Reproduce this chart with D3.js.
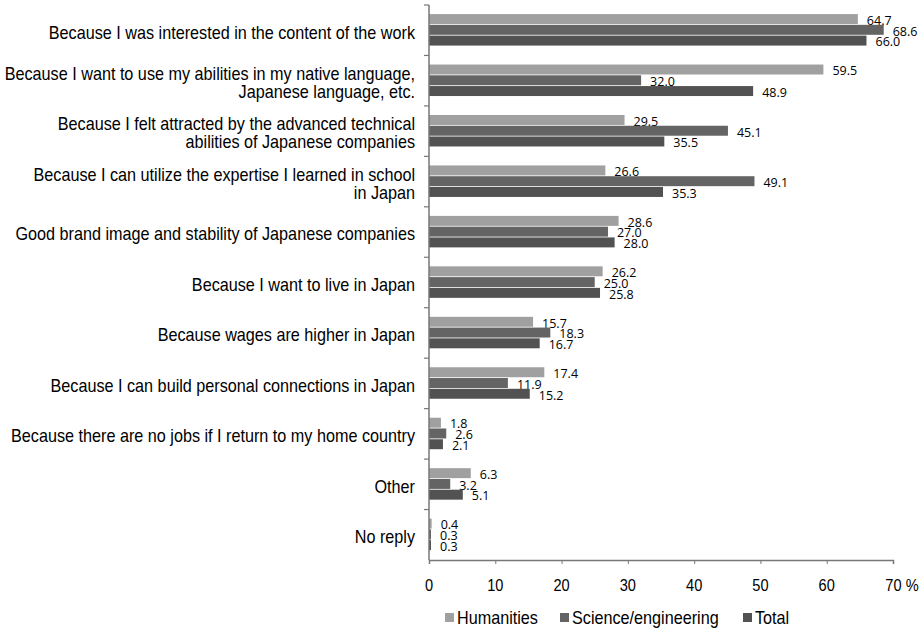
<!DOCTYPE html>
<html><head><meta charset="utf-8">
<script src="https://cdn.jsdelivr.net/npm/d3@7"></script>
<style>
body{margin:0;background:#fff;}
svg{display:block;}
.cat{font-family:"Liberation Sans",Arial,sans-serif;font-size:17px;fill:#000;}
.val{font-family:"Open Sans",sans-serif;font-size:12.5px;fill:#000;}
</style></head>
<body>
<script>
const categories = [
  ["Because I was interested in the content of the work"],
  ["Because I want to use my abilities in my native language,","Japanese language, etc."],
  ["Because I felt attracted by the advanced technical","abilities of Japanese companies"],
  ["Because I can utilize the expertise I learned in school","in Japan"],
  ["Good brand image and stability of Japanese companies"],
  ["Because I want to live in Japan"],
  ["Because wages are higher in Japan"],
  ["Because I can build personal connections in Japan"],
  ["Because there are no jobs if I return to my home country"],
  ["Other"],
  ["No reply"]
];
const seriesNames = ["Humanities","Science/engineering","Total"];
const humanities = [64.7,59.5,29.5,26.6,28.6,26.2,15.7,17.4,1.8,6.3,0.4];
const science    = [68.6,32.0,45.1,49.1,27.0,25.0,18.3,11.9,2.6,3.2,0.3];
const total      = [66.0,48.9,35.5,35.3,28.0,25.8,16.7,15.2,2.1,5.1,0.3];
const xTicks = [0,10,20,30,40,50,60,70];
const colors = ["#a0a0a0","#646464","#525252"];

const W=923,H=634;
const svg=d3.select("body").append("svg").attr("width",W).attr("height",H);
const x=d3.scaleLinear().domain([0,70]).range([429,893]);
const idx=d3.range(categories.length);
const y=d3.scaleBand().domain(idx).range([5,560]).paddingInner(0.36).paddingOuter(0.18);
const series=[humanities,science,total];
const ys=d3.scaleBand().domain([0,1,2]).range([0,y.bandwidth()]);

function narrowText(parent,px,py,anchor,size,sx){
  return parent.append("text").attr("class","cat").attr("text-anchor",anchor)
    .attr("transform",`translate(${px},${py}) scale(${sx},1)`).style("font-size",size+"px");
}

// bars
series.forEach((vals,s)=>{
  const g=svg.append("g");
  g.selectAll("rect").data(vals).join("rect")
    .attr("x",x(0)).attr("y",(d,i)=>y(i)+ys(s))
    .attr("width",d=>x(d)-x(0)).attr("height",ys.bandwidth()-0.8)
    .attr("fill",colors[s]);
  g.selectAll("text").data(vals).join("text").attr("class","val")
    .attr("x",d=>x(d)+9).attr("y",(d,i)=>y(i)+ys(s)+ys.bandwidth()/2+1)
    .attr("dy","0.35em").text(d=>d.toFixed(1));
});

// y axis line and ticks at band boundaries
const yb=d3.scaleLinear().domain([0,categories.length]).range([5,560]);
svg.append("line").attr("x1",429).attr("x2",429).attr("y1",5).attr("y2",560)
  .attr("stroke","#777").attr("stroke-width",1.5);
svg.selectAll(".yt").data(d3.range(categories.length)).join("line")
  .attr("x1",424).attr("x2",429).attr("y1",d=>yb(d)).attr("y2",d=>yb(d))
  .attr("stroke","#777").attr("stroke-width",1.2);

// x axis
const xa=svg.append("g").attr("transform","translate(0,560)")
  .call(d3.axisBottom(x).tickValues(xTicks).tickSize(4).tickFormat(""));
xa.select(".domain").attr("stroke","#777").attr("stroke-width",1.5);
xa.selectAll(".tick line").attr("stroke","#777");
xTicks.forEach(t=>{
  const lab = t===70 ? "70 %" : String(t);
  narrowText(svg, x(t)+(t===70?9:0), 585, "middle", 17, 0.86).attr("dy","0.35em").text(lab);
});

// category labels
categories.forEach((lines,i)=>{
  const cy=yb(i)+ (yb(i+1)-yb(i))/2;
  const lh=18;
  lines.forEach((ln,j)=>{
    narrowText(svg,415,cy+(j-(lines.length-1)/2)*lh+2,"end",18,0.9).attr("dy","0.35em").text(ln);
  });
});

// legend
const legX=[445,560,743];
seriesNames.forEach((n,s)=>{
  svg.append("rect").attr("x",legX[s]).attr("y",613).attr("width",9).attr("height",9).attr("fill",colors[s]);
  narrowText(svg,legX[s]+12,618,"start",18,0.9).attr("dy","0.35em").text(n);
});
</script>
</body></html>
